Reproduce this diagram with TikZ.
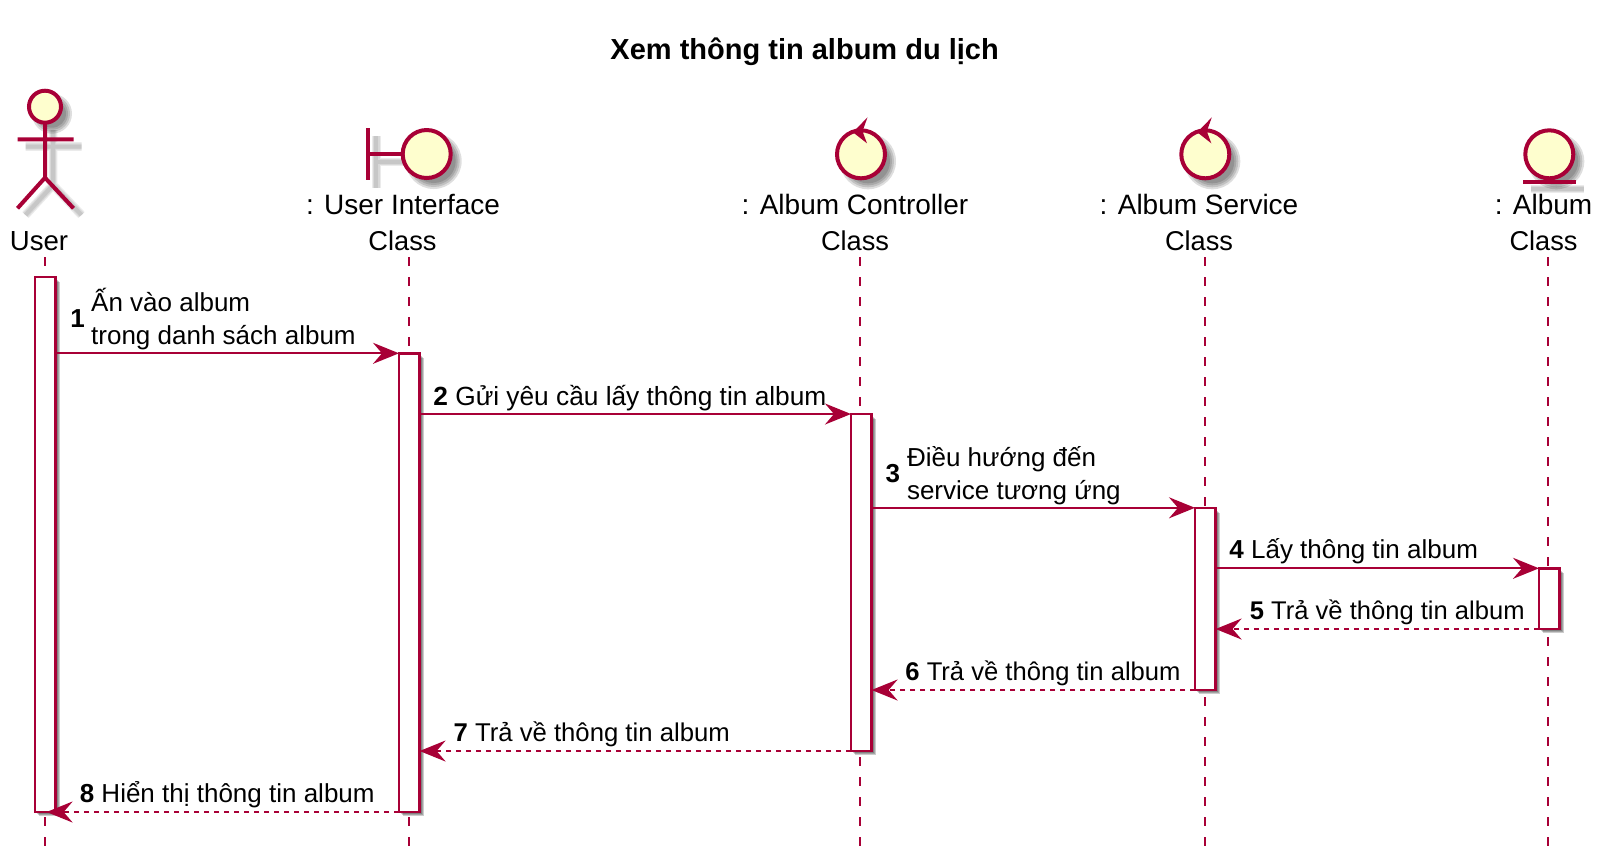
\documentclass[tikz,border=0pt]{standalone}
\usepackage{fontspec}
\setmainfont{Liberation Sans}
\usetikzlibrary{arrows.meta}
\definecolor{pu}{HTML}{A80036}
\definecolor{puf}{HTML}{FEFECE}
\tikzset{
  x=.5pt,y=-.5pt,
  life/.style={draw=pu,line width=1.05pt,dash pattern=on 4.3pt off 5.7pt},
  actbox/.style={draw=pu,fill=white,line width=1.2pt,inner sep=0,outer sep=0,minimum width=10.3pt,anchor=north west},
  msg/.style={draw=pu,line width=1.1pt,-{Stealth[length=13pt,width=10.5pt,inset=4.5pt,color=pu]}},
  ret/.style={msg,dash pattern=on 2.5pt off 2.5pt},
  icon/.style={draw=pu,fill=puf,line width=2pt},
  stick/.style={draw=pu,line width=2pt},
  title/.style={font=\fontsize{14.5}{17}\selectfont\bfseries,inner sep=0,anchor=base},
  plabel/.style={font=\fontsize{14}{17.85}\selectfont,align=center,inner sep=0,anchor=base},
  cls/.style={plabel,font=\fontsize{13.6}{17.85}\selectfont},
  mtext/.style={font=\fontsize{13}{16.35}\selectfont,align=left,inner sep=0,anchor=base west},
  numb/.style={font=\fontsize{13}{16.35}\selectfont\bfseries,inner sep=0,anchor=base west},
  shd/.style={black,opacity=.13},
}
\newcommand{\shdisc}[3]{%
  \foreach \d in {3,1,-1,-3}{\fill[shd] (#1+7,#2+7) circle ({(#3+\d)*.5pt});}}
\newcommand{\shbox}[4]{%
  \foreach \d in {0,1,2}{\fill[black,opacity=.2] (#1+\d+2,#2+\d+3) rectangle (#3+\d+2,#4+\d+2);}}
\newcommand{\shline}[1]{%
  \foreach \w in {4.4,3.2,2}{\draw[black,opacity=.08,line width=\w pt] #1;}}
\begin{document}
\begin{tikzpicture}
\useasboundingbox (0,0) rectangle (1602,859);
\fill[white] (0,0) rectangle (1602,859);
\node[title] (ttl) at (804.6,59) {Xem thông tin album du lịch};

% lifeline ends
\coordinate (lu0) at (45,257); \coordinate (lu1) at (45,846);
\coordinate (lb0) at (409,257); \coordinate (lb1) at (409,846);
\coordinate (lc0) at (860,257); \coordinate (lc1) at (860,846);
\coordinate (ls0) at (1205,257); \coordinate (ls1) at (1205,846);
\coordinate (le0) at (1548,257); \coordinate (le1) at (1548,846);
\draw[life] (lu0) -- (lu1);
\draw[life] (lb0) -- (lb1);
\draw[life] (lc0) -- (lc1);
\draw[life] (ls0) -- (ls1);
\draw[life] (le0) -- (le1);

% actor
\begin{scope}[shift={(8,7)}]
\shline{(45,123) -- (45,178) (17.5,139.5) -- (73.5,139.5) (17.5,208) -- (45,178) -- (73.5,208)}
\end{scope}
\shdisc{45}{106.7}{17}
\draw[icon] (45,106.7) circle (8pt);
\draw[stick] (45,122.7) -- (45,177.7) (17.5,139.3) -- (73.5,139.3) (17.5,208.3) -- (45,177.7) -- (73.5,208.3);
\node[plabel,font=\fontsize{13.8}{17.85}\selectfont] (nu) at (39,250) {User};

% boundary
\begin{scope}[shift={(8,8)}]
\shline{(368.3,128.3) -- (368.3,180) (368.3,154) -- (402.7,154)}
\end{scope}
\shdisc{426.7}{154}{25}
\draw[stick] (368.3,128.3) -- (368.3,180) (368.3,154) -- (402.7,154);
\draw[icon] (426.7,154) circle (12pt);
\node[plabel] (nb) at (403,214.3) {: User Interface};
\node[cls] (nb2) at (402.5,250) {Class};

% controller
\shdisc{861}{154.3}{25}
\draw[icon] (861,154.3) circle (12pt);
\fill[pu] (867.5,117.3) -- (853,132.3) -- (867,143.3) -- (862.5,131.3) -- cycle;
\node[plabel] (nc) at (855,214.3) {: Album Controller};
\node[cls] (nc2) at (855,250) {Class};

% service
\shdisc{1205.3}{154.3}{25}
\draw[icon] (1205.3,154.3) circle (12pt);
\fill[pu] (1211.8,117.3) -- (1197.3,132.3) -- (1211.3,143.3) -- (1206.8,131.3) -- cycle;
\node[plabel] (ns) at (1199,214.3) {: Album Service};
\node[cls] (ns2) at (1199,250) {Class};

% entity
\shdisc{1549.3}{154.3}{25}
\begin{scope}[shift={(8,7)}]
\shline{(1523.3,182) -- (1575.7,182)}
\end{scope}
\draw[icon] (1549.3,154.3) circle (12pt);
\draw[stick] (1523.3,182) -- (1575.7,182);
\node[plabel] (ne) at (1543.5,214.3) {: Album};
\node[cls] (ne2) at (1543.5,250) {Class};

% activation shadows
\shbox{35}{276.7}{55.6}{812}
\shbox{399}{353.3}{419.6}{812}
\shbox{851}{414}{871.6}{751}
\shbox{1195}{507.8}{1215.6}{690}
\shbox{1539}{568.3}{1559.6}{629}

% activations
\node[actbox,minimum height=267.65pt] (au) at (35,276.7) {};
\node[actbox,minimum height=229.35pt] (ab) at (399,353.3) {};
\node[actbox,minimum height=168.5pt] (ac) at (851,414) {};
\node[actbox,minimum height=91.1pt] (as) at (1195,507.8) {};
\node[actbox,minimum height=30.35pt] (ae) at (1539,568.3) {};

% messages
\draw[msg] ([xshift=-.5pt]au.east |- ab.north) -- (ab.north west);
\draw[msg] ([xshift=-.5pt]ab.east |- ac.north) -- (ac.north west);
\draw[msg] ([xshift=-.5pt]ac.east |- as.north) -- (as.north west);
\draw[msg] ([xshift=-.5pt]as.east |- ae.north) -- (ae.north west);
\draw[ret] (ae.south west) -- (as.east |- ae.south);
\draw[ret] (as.south west) -- (ac.east |- as.south);
\draw[ret] (ac.south west) -- (ab.east |- ac.south);
\draw[ret] (ab.south west) -- ([xshift=-4.5pt]au.east |- ab.south);

% message labels
\node[numb] (m1n) at (70,327) {1};
\node[mtext] (m1a) at (90.8,311.5) {Ấn vào album};
\node[mtext] (m1b) at (90.8,344) {trong danh sách album};
\node[mtext,font=\fontsize{13.14}{16.35}\selectfont] (m2) at (433,405) {\textbf{2} Gửi yêu cầu lấy thông tin album};
\node[numb] (m3n) at (885.3,482) {3};
\node[mtext] (m3a) at (906.6,466) {Điều hướng đến};
\node[mtext] (m3b) at (906.6,499) {service tương ứng};
\node[mtext] (m4) at (1229,558.8) {\textbf{4} Lấy thông tin album};
\node[mtext,font=\fontsize{12.78}{16.35}\selectfont] (m5) at (1249.5,619.5) {\textbf{5} Trả về thông tin album};
\node[mtext,font=\fontsize{12.8}{16.35}\selectfont] (m6) at (905,680.5) {\textbf{6} Trả về thông tin album};
\node[mtext,font=\fontsize{12.85}{16.35}\selectfont] (m7) at (453.2,741) {\textbf{7} Trả về thông tin album};
\node[mtext] (m8) at (79.4,802) {\textbf{8} Hiển thị thông tin album};
\end{tikzpicture}
\end{document}
